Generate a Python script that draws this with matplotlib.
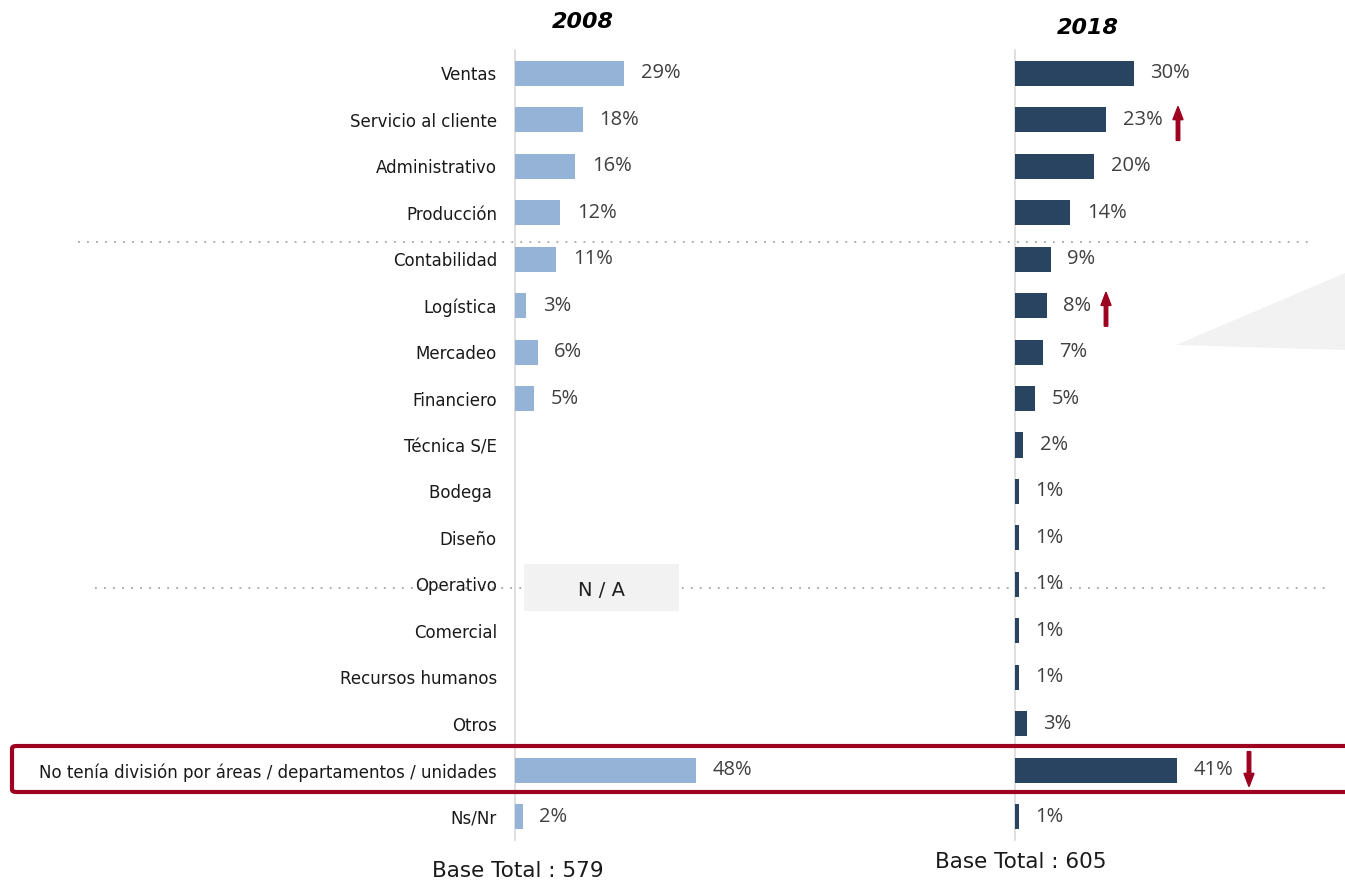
import matplotlib
matplotlib.use("Agg")
import matplotlib.pyplot as plt
from matplotlib.patches import Rectangle, Polygon, FancyBboxPatch, FancyArrow
import numpy as np

categories = ["Ventas", "Servicio al cliente", "Administrativo", "Producción",
              "Contabilidad", "Logística", "Mercadeo", "Financiero",
              "Técnica S/E", "Bodega ", "Diseño", "Operativo", "Comercial",
              "Recursos humanos", "Otros",
              "No tenía división por áreas / departamentos / unidades", "Ns/Nr"]
values_2008 = [29, 18, 16, 12, 11, 3, 6, 5, None, None, None, None, None, None, None, 48, 2]
values_2018 = [30, 23, 20, 14, 9, 8, 7, 5, 2, 1, 1, 1, 1, 1, 3, 41, 1]
titles = ["2008", "2018"]
bases = ["Base Total : 579", "Base Total : 605"]
arrows_up = ["Servicio al cliente", "Logística"]
arrows_down = ["No tenía división por áreas / departamentos / unidades"]

W, H = 1345, 881
fig = plt.figure(figsize=(W / 100, H / 100), dpi=100)

def fx(px):
    return px / W

def fy(py):
    return 1 - py / H

light = "#95B3D7"
dark = "#284461"
txtcol = "#404040"
red = "#9E0020"
pct_font = "Open Sans"

top_px, bot_px = 50, 840
axL = fig.add_axes([fx(515), fy(bot_px), fx(485), (bot_px - top_px) / H])
axR = fig.add_axes([fx(1015), fy(bot_px), fx(330), (bot_px - top_px) / H])
n = len(categories)
y = np.arange(n)

# background decorations (figure level)
tri = Polygon([[fx(1176), fy(345)], [fx(1345), fy(273)], [fx(1345), fy(350)]],
              closed=True, transform=fig.transFigure, facecolor="#F2F2F2",
              edgecolor="none", zorder=0)
fig.patches.append(tri)

for (x0, x1, yy) in [(78, 1310, 242), (95, 1330, 588)]:
    fig.add_artist(plt.Line2D([fx(x0), fx(x1)], [fy(yy), fy(yy)], transform=fig.transFigure,
                              color="#A6A6A6", linestyle=(0, (1, 4)), linewidth=1.3, zorder=0))

na = Rectangle((fx(524), fy(611)), fx(679 - 524), (611 - 564) / H, transform=fig.transFigure,
               facecolor="#F2F2F2", edgecolor="none", zorder=1)
fig.patches.append(na)
fig.text(fx(601), fy(590), "N / A", ha="center", va="center", fontsize=14,
         family="DejaVu Sans", color="#202020", zorder=2)

for ax, vals, col, xmax in [(axL, values_2008, light, 485 / 3.77), (axR, values_2018, dark, 330 / 3.96)]:
    ax.set_xlim(0, xmax)
    ax.set_ylim(n - 0.5, -0.5)
    ax.patch.set_alpha(0)
    for s in ["top", "right", "bottom"]:
        ax.spines[s].set_visible(False)
    ax.spines["left"].set_color("#D9D9D9")
    ax.spines["left"].set_linewidth(1.2)
    ax.set_xticks([])
    ax.tick_params(axis="y", length=0)
    for i, v in enumerate(vals):
        if v is None:
            continue
        ax.barh(i, v, height=0.54, color=col, zorder=3)
        ax.annotate(f"{v}%", (v, i), xytext=(12, 0), textcoords="offset points",
                    ha="left", va="center", fontsize=14.5, color=txtcol,
                    family=pct_font, zorder=4)

axL.set_yticks(y)
axL.set_yticklabels(categories, fontsize=12, family="DejaVu Sans", color="#1a1a1a")
axL.tick_params(axis="y", pad=13)
axR.set_yticks([])

# titles
fig.text(fx(583), fy(22), titles[0], ha="center", va="center", fontsize=16,
         fontweight="bold", fontstyle="italic", family="DejaVu Sans")
fig.text(fx(1088), fy(28), titles[1], ha="center", va="center", fontsize=16,
         fontweight="bold", fontstyle="italic", family="DejaVu Sans")

# base totals
fig.text(fx(518), fy(871), bases[0], ha="center", va="center", fontsize=15.5,
         family="DejaVu Sans", color="#1a1a1a")
fig.text(fx(1021), fy(862), bases[1], ha="center", va="center", fontsize=15.5,
         family="DejaVu Sans", color="#1a1a1a")

def arrow(i, px, up):
    yc = 73 + 46.44 * i
    if up:
        y0, y1 = yc + 21, yc - 13
    else:
        y0, y1 = yc - 18, yc + 17
    fig.patches.append(FancyArrow(fx(px), fy(y0), 0, fy(y1) - fy(y0), width=0.0026,
                                  head_width=0.0075, head_length=0.015,
                                  length_includes_head=True, transform=fig.transFigure,
                                  color=red, zorder=5))

arrow(categories.index(arrows_up[0]), 1178, True)
arrow(categories.index(arrows_up[1]), 1106, True)
arrow(categories.index(arrows_down[0]), 1249, False)

# red highlight box
box = FancyBboxPatch((fx(12), fy(792)), fx(1360 - 12), (792 - 746) / H,
                     boxstyle="round,pad=0,rounding_size=0.003", transform=fig.transFigure,
                     facecolor="none", edgecolor=red, linewidth=3, zorder=6)
fig.patches.append(box)

fig.savefig("out.png", dpi=100)
